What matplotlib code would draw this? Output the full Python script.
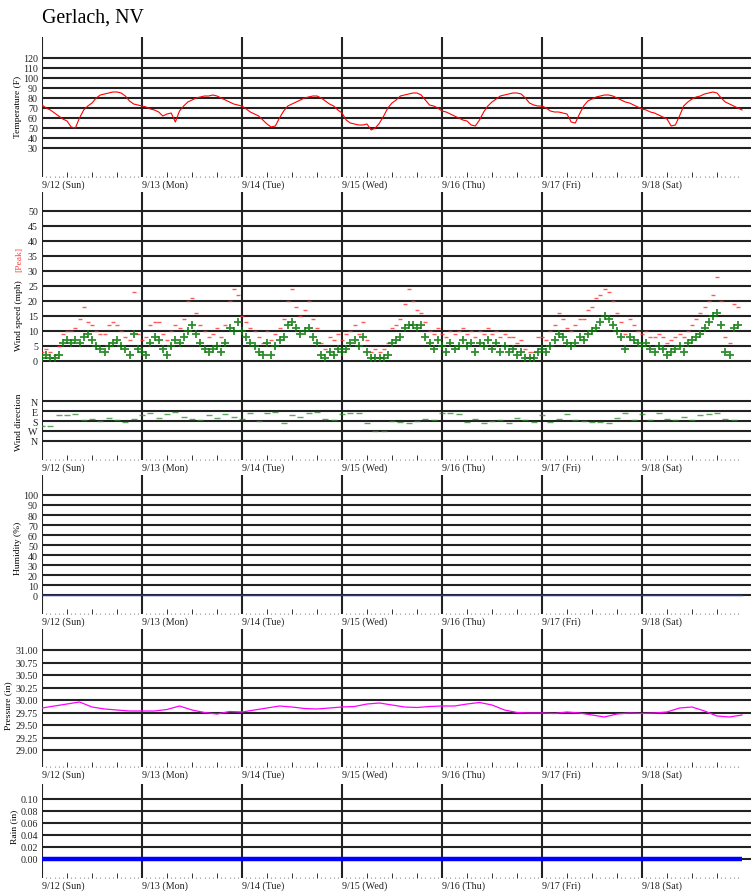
import matplotlib
matplotlib.use("Agg")
import matplotlib.pyplot as plt
import numpy as np

W, H = 751, 895
plt.rcParams['font.family'] = ['Liberation Serif', 'DejaVu Serif']

# --- data ---
station = "Gerlach, NV"
day_labels = ["9/12 (Sun)", "9/13 (Mon)", "9/14 (Tue)", "9/15 (Wed)",
              "9/16 (Thu)", "9/17 (Fri)", "9/18 (Sat)"]

# hourly temperature (F), 9/12 00:00 .. 9/19 00:00
temp = [73, 70, 68, 65, 62, 59, 57, 51, 50, 60, 68, 72, 75, 80, 83, 84, 85, 86, 86, 85, 82, 77, 74, 73,
        72, 71, 69, 68, 66, 62, 64, 65, 56, 67, 72, 76, 78, 80, 81, 82, 82, 83, 82, 80, 78, 76, 74, 73,
        72, 69, 66, 64, 62, 58, 54, 51, 52, 60, 67, 72, 74, 76, 78, 80, 81, 82, 82, 80, 77, 74, 72, 68,
        65, 58, 55, 54, 53, 53, 54, 48, 50, 55, 62, 70, 75, 78, 82, 83, 84, 85, 85, 83, 78, 73, 72, 70,
        67, 66, 64, 62, 60, 58, 57, 53, 52, 58, 66, 72, 76, 79, 82, 83, 84, 85, 85, 84, 80, 75, 73, 72,
        72, 70, 67, 66, 66, 65, 64, 56, 55, 64, 72, 77, 79, 81, 82, 83, 83, 82, 80, 78, 76, 75, 73, 71,
        69, 68, 66, 65, 63, 61, 59, 52, 53, 62, 72, 76, 79, 81, 82, 84, 85, 86, 85, 80, 76, 74, 72, 70,
        68]

# hourly wind speed and peak gust (mph)
wind = [1, 2, 1, 1, 2, 6, 7, 6, 7, 6, 8, 9, 7, 5, 4, 3, 5, 6, 7, 5, 4, 2, 9, 4,
        3, 2, 6, 8, 7, 4, 2, 5, 7, 6, 8, 10, 12, 9, 6, 4, 3, 4, 5, 3, 6, 11, 10, 13,
        10, 8, 6, 5, 3, 2, 6, 2, 5, 7, 8, 12, 13, 11, 9, 10, 11, 8, 6, 2, 1, 3, 2, 4,
        3, 4, 6, 7, 5, 8, 3, 1, 1, 1, 1, 2, 6, 7, 8, 11, 12, 12, 11, 12, 8, 6, 4, 7,
        5, 3, 6, 4, 5, 7, 5, 6, 3, 6, 5, 7, 4, 6, 3, 5, 3, 4, 2, 3, 1, 1, 1, 3,
        4, 3, 5, 7, 9, 8, 6, 5, 6, 8, 7, 9, 10, 11, 13, 15, 14, 12, 10, 8, 4, 8, 7, 6,
        5, 6, 4, 3, 5, 4, 2, 3, 4, 5, 3, 6, 7, 8, 9, 11, 13, 15, 16, 12, 3, 2, 11, 12]
peak = [3, 4, 3, 2, 5, 9, 10, 10, 11, 14, 18, 13, 12, 10, 9, 9, 12, 13, 12, 10, 8, 7, 23, 9,
        7, 8, 12, 13, 13, 9, 7, 10, 12, 11, 14, 20, 21, 16, 12, 10, 8, 9, 11, 8, 12, 20, 24, 22,
        15, 13, 11, 10, 8, 6, 10, 7, 9, 11, 14, 20, 24, 18, 15, 17, 20, 14, 11, 6, 4, 8, 7, 9,
        7, 9, 10, 12, 9, 13, 7, 3, 4, 3, 4, 6, 11, 12, 14, 19, 24, 20, 17, 16, 13, 10, 9, 11,
        9, 8, 10, 9, 10, 11, 9, 10, 8, 10, 9, 11, 9, 10, 8, 9, 8, 8, 6, 7, 4, 3, 3, 8,
        8, 7, 10, 12, 16, 14, 11, 10, 12, 14, 14, 17, 18, 21, 22, 24, 23, 20, 16, 13, 9, 14, 12, 10,
        9, 10, 8, 8, 9, 8, 6, 7, 8, 9, 8, 10, 12, 14, 16, 18, 20, 22, 28, 20, 8, 6, 19, 18]

# wind direction (degrees), every 2 hours
wdir = [225, 225, 130, 125, 120, 170, 160, 180, 150, 170, 190, 160,
        130, 110, 150, 120, 100, 140, 160, 170, 130, 150, 120, 140,
        160, 110, 180, 110, 100, 200, 130, 140, 110, 100, 160, 170,
        115, 110, 110, 200, 270, 270, 180, 190, 200, 180, 160, 170,
        110, 110, 115, 190, 160, 200, 180, 170, 200, 150, 170, 190,
        130, 190, 160, 120, 170, 180, 190, 190, 200, 150, 110, 170,
        120, 170, 110, 160, 170, 140, 170, 130, 120, 110, 160, 170]

# humidity (%) and rain (in) at each midnight
humidity = [0, 0, 0, 0, 0, 0, 0, 0]
rain = [0.00, 0.00, 0.00, 0.00, 0.00, 0.00, 0.00, 0.00]

# pressure (in), every 3 hours
pressure = [29.84, 29.88, 29.92, 29.96, 29.86, 29.82, 29.80, 29.78,
            29.78, 29.78, 29.81, 29.88, 29.80, 29.75, 29.72, 29.77,
            29.76, 29.80, 29.84, 29.88, 29.86, 29.83, 29.82, 29.84,
            29.86, 29.87, 29.92, 29.94, 29.90, 29.86, 29.85, 29.87,
            29.88, 29.88, 29.92, 29.95, 29.90, 29.80, 29.75, 29.74,
            29.74, 29.73, 29.76, 29.74, 29.70, 29.66, 29.72, 29.74,
            29.73, 29.74, 29.76, 29.84, 29.86, 29.78, 29.68, 29.66, 29.70]

h_temp = np.arange(len(temp))
h_wind = np.arange(len(wind))
h_dir = np.arange(len(wdir)) * 2
h_pres = np.arange(len(pressure)) * 3
h_day = np.arange(len(rain)) * 24

GRID = '#222222'
XMAX = 709 / 100 * 24


def add_ax(top, bottom):
    return fig.add_axes([42 / W, 1 - bottom / H, 1 - 42 / W, (bottom - top) / H])


def style(ax, ylim, ticks, labels, xlabels=True):
    ax.set_xlim(0, XMAX)
    ax.set_ylim(*ylim)
    for s in ax.spines.values():
        s.set_visible(False)
    ax.set_yticks(ticks)
    ax.set_yticklabels(labels)
    ax.tick_params(axis='y', length=0, pad=3, labelsize=7.2, labelcolor='#222222')
    for t in ticks:
        ax.axhline(t, color=GRID, lw=1.5, zorder=1)
    for d in range(7):
        ax.axvline(d * 24, color=GRID, lw=1.5, zorder=1)
    if xlabels:
        major = [h for h in range(6, 168, 6) if h % 24]
        ax.set_xticks(major)
        ax.set_xticklabels([])
        ax.set_xticks([h for h in range(1, 169) if h % 6], minor=True)
        ax.tick_params(axis='x', which='major', direction='in', length=3.6,
                       width=0.7, color='#333333')
        ax.tick_params(axis='x', which='minor', direction='in', length=0.6,
                       width=0.8, color='#666666')
        for d, lab in enumerate(day_labels):
            ax.annotate(lab, (d * 24, 0), xycoords=('data', 'axes fraction'),
                        xytext=(0, -7), textcoords='offset pixels',
                        ha='left', va='center', fontsize=7.2, color='#222222')
    else:
        ax.set_xticks([])


fig = plt.figure(figsize=(W / 100, H / 100), dpi=100)
fig.text(42 / W, 1 - 18 / H, station, fontsize=14.3, ha='left', va='center')

# temperature
ax = add_ax(38, 178)
style(ax, (1, 141), range(30, 121, 10), [str(v) for v in range(30, 121, 10)])
ax.plot(h_temp, temp, color='#ff0000', lw=0.8, zorder=3)
fig.text(18 / W, 1 - 107 / H, "Temperature (F)", rotation=90, ha='center', va='center', fontsize=6.8)

# wind speed
ax = add_ax(193, 380)
style(ax, (-6, 56.33), range(0, 51, 5), [str(v) for v in range(0, 51, 5)], xlabels=False)
ax.plot(h_wind, peak, ls='none', marker='_', ms=2.2, mew=1, color='#ff3030', alpha=0.8, zorder=3)
ax.plot(h_wind, wind, ls='none', marker='+', ms=6, mew=1.3, color='#0a7a0a', alpha=0.85, zorder=4)
fig.text(19 / W, 1 - 316 / H, "Wind speed (mph)", rotation=90, ha='center', va='center', fontsize=6.8)
fig.text(19 / W, 1 - 259 / H, "[Peak]", rotation=90, ha='center', va='center', fontsize=6.8,
         color='#ff4040')

# wind direction
ax = add_ax(380, 461)
style(ax, (531, -198), [0, 90, 180, 270, 360], ['N', 'E', 'S', 'W', 'N'])
ax.plot(h_dir, wdir, ls='none', marker='_', ms=5, mew=1, color='#2a8a2a', alpha=0.75, zorder=3)
fig.text(19 / W, 1 - 422 / H, "Wind direction", rotation=90, ha='center', va='center', fontsize=6.8)

# humidity
ax = add_ax(476, 615)
style(ax, (-19, 120), range(0, 101, 10), [str(v) for v in range(0, 101, 10)])
ax.plot(h_day, humidity, color='#2030c0', lw=1, zorder=3)
fig.text(18 / W, 1 - 548 / H, "Humidity (%)", rotation=90, ha='center', va='center', fontsize=6.8)

# pressure
ax = add_ax(630, 768)
pt = [29.00, 29.25, 29.50, 29.75, 30.00, 30.25, 30.50, 30.75, 31.00]
style(ax, (28.66, 31.42), pt, [f"{v:.2f}" for v in pt])
ax.plot(h_pres, pressure, color='#ff00ff', lw=0.9, zorder=3)
fig.text(8 / W, 1 - 706 / H, "Pressure (in)", rotation=90, ha='center', va='center', fontsize=6.8)

# rain
ax = add_ax(785, 879)
rt = [0.00, 0.02, 0.04, 0.06, 0.08, 0.10]
style(ax, (-0.0317, 0.125), rt, [f"{v:.2f}" for v in rt])
ax.plot(h_day, rain, color='#0000ff', lw=3.2, zorder=3, solid_capstyle='butt')
fig.text(14 / W, 1 - 827 / H, "Rain (in)", rotation=90, ha='center', va='center', fontsize=6.8)

fig.savefig("out.png", dpi=100)
